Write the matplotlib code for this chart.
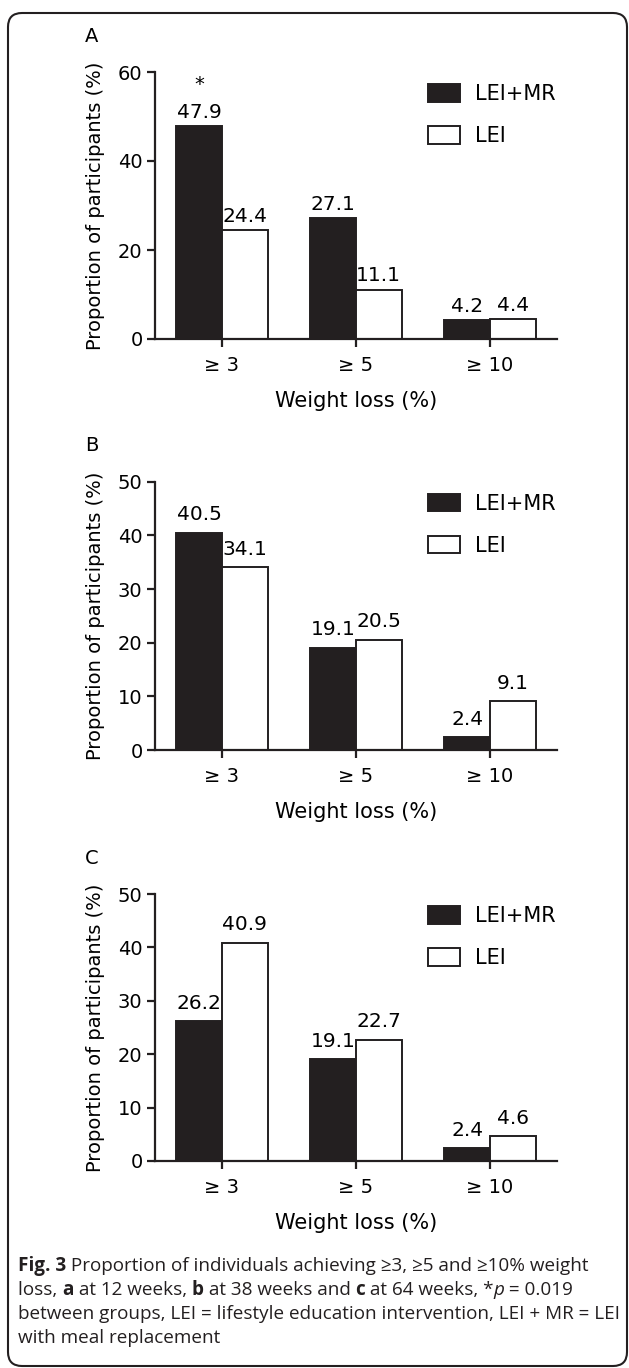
import matplotlib
matplotlib.use("Agg")
import matplotlib.pyplot as plt
from matplotlib.patches import Patch, FancyBboxPatch

W, H, DPI = 629, 1368, 100

# data
categories = ["≥ 3", "≥ 5", "≥ 10"]
panel_labels = ["A", "B", "C"]
lei_mr_12wk = [47.9, 27.1, 4.2]
lei_12wk = [24.4, 11.1, 4.4]
lei_mr_38wk = [40.5, 19.1, 2.4]
lei_38wk = [34.1, 20.5, 9.1]
lei_mr_64wk = [26.2, 19.1, 2.4]
lei_64wk = [40.9, 22.7, 4.6]
ymax = [60, 50, 50]
ystep = [20, 10, 10]

BLACK = "#231f20"
LW = 1.6
FS = 14
cap_font = ["Open Sans", "DejaVu Sans"]

plt.rcParams["font.family"] = ["DejaVu Sans"]

fig = plt.figure(figsize=(W / DPI, H / DPI), dpi=DPI)


def px_axes(left, top, right, bottom):
    return fig.add_axes([left / W, 1 - bottom / H, (right - left) / W, (bottom - top) / H])


def draw_panel(ax, mr, lei, top, step, gap, star=False):
    x = list(range(len(categories)))
    w = 0.34
    ax.bar([i - w / 2 for i in x], mr, w, color=BLACK, edgecolor=BLACK, lw=1.4, label="LEI+MR")
    ax.bar([i + w / 2 for i in x], lei, w, color="white", edgecolor=BLACK, lw=1.4, label="LEI")
    for i in x:
        ax.annotate(f"{mr[i]}", (i - w / 2, mr[i]), xytext=(0, gap), textcoords="offset points",
                    ha="center", va="baseline", fontsize=14.5)
        ax.annotate(f"{lei[i]}", (i + w / 2, lei[i]), xytext=(0, gap), textcoords="offset points",
                    ha="center", va="baseline", fontsize=14.5)
    if star:
        ax.annotate("*", (0 - w / 2, mr[0]), xytext=(0, gap + 20), textcoords="offset points",
                    ha="center", va="baseline", fontsize=FS)
    ax.set_xlim(-0.5, 2.5)
    ax.set_ylim(0, top)
    ax.set_yticks(range(0, top + 1, step))
    ax.set_xticks(x)
    ax.set_xticklabels(categories)
    for s in ["top", "right"]:
        ax.spines[s].set_visible(False)
    for s in ["left", "bottom"]:
        ax.spines[s].set_linewidth(LW)
        ax.spines[s].set_color(BLACK)
    ax.tick_params(direction="out", length=6, width=LW, labelsize=FS, color=BLACK, pad=3)
    ax.tick_params(axis="x", pad=6)
    ax.set_xlabel("Weight loss (%)", fontsize=15, labelpad=12)
    ax.set_ylabel("Proportion of participants (%)", fontsize=FS, labelpad=9)
    ax.patch.set_visible(False)
    handles = [Patch(facecolor=BLACK, edgecolor=BLACK, lw=1.4),
               Patch(facecolor="white", edgecolor=BLACK, lw=1.4)]
    ax.legend(handles, ["LEI+MR", "LEI"], loc="upper left", bbox_to_anchor=(0.678, 0.956),
              frameon=False, fontsize=15, handlelength=1.55, handleheight=0.95,
              handletextpad=0.75, labelspacing=1.05, borderpad=0, borderaxespad=0)


panels = [
    (lei_mr_12wk, lei_12wk, 72, 339, 6, True),
    (lei_mr_38wk, lei_38wk, 481.7, 750, 9, False),
    (lei_mr_64wk, lei_64wk, 894, 1161, 9, False),
]
for k, (mr, lei, top_px, bot_px, gap, star) in enumerate(panels):
    ax = px_axes(155, top_px, 557, bot_px)
    draw_panel(ax, mr, lei, ymax[k], ystep[k], gap, star)
    fig.text(92 / W, 1 - (top_px - 36) / H, panel_labels[k], fontsize=FS, ha="center", va="center")

# outer rounded frame
frame = FancyBboxPatch((8 / DPI, (H - 1366) / DPI), (627 - 8) / DPI, (1366 - 13) / DPI,
                       boxstyle="round,pad=0,rounding_size=0.14", transform=fig.dpi_scale_trans,
                       fill=False, lw=1.5, edgecolor=BLACK)
fig.add_artist(frame)

# caption with mixed weights
renderer = fig.canvas.get_renderer()


def text_width(s, **kw):
    t = fig.text(0, 0, s + "I", **kw)
    ref = fig.text(0, 0, "I", **kw)
    wpx = t.get_window_extent(renderer).width - ref.get_window_extent(renderer).width
    t.remove()
    ref.remove()
    return wpx


def caption_line(x_px, y_px, parts, size=13.6):
    x = x_px
    for s, weight, style in parts:
        kw = dict(fontsize=size, fontweight=weight, fontstyle=style, family=cap_font, color=BLACK)
        fig.text(x / W, 1 - y_px / H, s, va="baseline", ha="left", **kw)
        x += text_width(s, **kw)


N, B, I = "normal", "bold", "italic"
caption = [
    [("Fig. 3", B, N), (" Proportion of individuals achieving ≥3, ≥5 and ≥10% weight", N, N)],
    [("loss, ", N, N), ("a", B, N), (" at 12 weeks, ", N, N), ("b", B, N), (" at 38 weeks and ", N, N),
     ("c", B, N), (" at 64 weeks, *", N, N), ("p", N, I), (" = 0.019", N, N)],
    [("between groups, LEI = lifestyle education intervention, LEI + MR = LEI", N, N)],
    [("with meal replacement", N, N)],
]
for j, line in enumerate(caption):
    caption_line(18, 1271 + j * 24, line)

fig.savefig("out.png", dpi=DPI)
